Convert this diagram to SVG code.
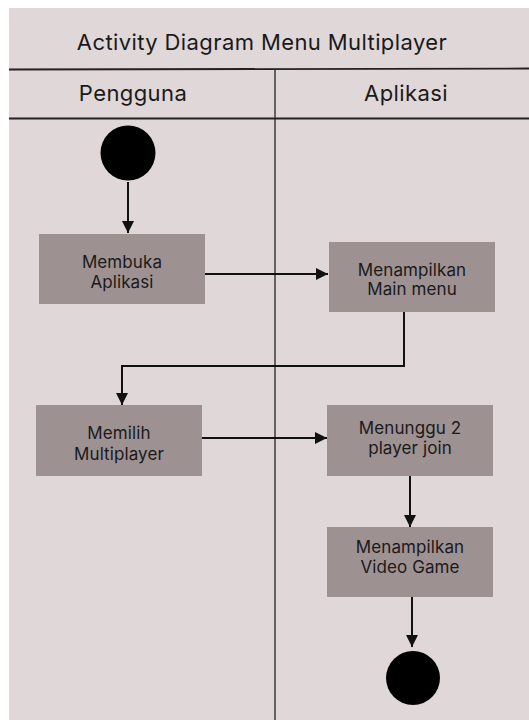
<svg xmlns="http://www.w3.org/2000/svg" width="529" height="720" viewBox="0 0 529 720">
<style>
.bg{fill:#dfd7d8}
.box{fill:#9e9192}
.ln{stroke:#111;stroke-width:2;fill:none}
.sep{stroke:#222;stroke-width:1.3;fill:none}
.t{font-family:Inter,"Noto Sans",sans-serif;fill:#1a1a1a;text-anchor:middle}
.h{font-size:22px;letter-spacing:0.4px}
.n{font-size:17px;letter-spacing:0.1px}
</style>
<defs>
<marker id="ah" viewBox="0 0 10 10" refX="10" refY="5" markerWidth="12" markerHeight="12" markerUnits="userSpaceOnUse" orient="auto">
<path d="M0,0 L10,5 L0,10 Z" fill="#111"/>
</marker>
</defs>
<rect x="0" y="0" width="529" height="720" fill="#ffffff"/>
<rect class="bg" x="9" y="8" width="520" height="712"/>
<g id="header">
<text class="t h" x="262" y="50">Activity Diagram Menu Multiplayer</text>
<line x1="9" y1="69.5" x2="529" y2="68.5" stroke="#222" stroke-width="1.8"/>
<line class="sep" x1="275" y1="70" x2="275" y2="720"/>
<text class="t h" x="133" y="101">Pengguna</text>
<text class="t h" x="406" y="101">Aplikasi</text>
<line x1="9" y1="118.5" x2="529" y2="118.5" stroke="#222" stroke-width="1.8"/>
</g>
<g id="connectors">
<line class="ln" x1="128" y1="182" x2="128" y2="233" marker-end="url(#ah)"/>
<line class="ln" x1="205" y1="274" x2="328" y2="274" marker-end="url(#ah)"/>
<polyline class="ln" points="404,312 404,366 122,366 122,405" marker-end="url(#ah)"/>
<line class="ln" x1="202" y1="438" x2="327" y2="438" marker-end="url(#ah)"/>
<line class="ln" x1="410" y1="476" x2="410" y2="527" marker-end="url(#ah)"/>
<line class="ln" x1="412" y1="597" x2="412" y2="647" marker-end="url(#ah)"/>
</g>
<g id="start"><circle cx="128" cy="153" r="27.5" fill="#000"/></g>
<g id="membuka">
<rect class="box" x="39" y="234" width="166" height="70"/>
<text class="t n" x="122" y="268">Membuka</text>
<text class="t n" x="122" y="288">Aplikasi</text>
</g>
<g id="menampilkan-main">
<rect class="box" x="329" y="242" width="166" height="70"/>
<text class="t n" x="412" y="276">Menampilkan</text>
<text class="t n" x="412" y="295">Main menu</text>
</g>
<g id="memilih">
<rect class="box" x="36" y="405" width="166" height="71"/>
<text class="t n" x="119" y="439">Memilih</text>
<text class="t n" x="119" y="460">Multiplayer</text>
</g>
<g id="menunggu">
<rect class="box" x="327" y="405" width="166" height="71"/>
<text class="t n" x="410" y="434">Menunggu 2</text>
<text class="t n" x="410" y="454">player join</text>
</g>
<g id="menampilkan-video">
<rect class="box" x="327" y="527" width="166" height="70"/>
<text class="t n" x="410" y="553">Menampilkan</text>
<text class="t n" x="410" y="573">Video Game</text>
</g>
<g id="end"><circle cx="413" cy="678" r="27" fill="#000"/></g>
</svg>
